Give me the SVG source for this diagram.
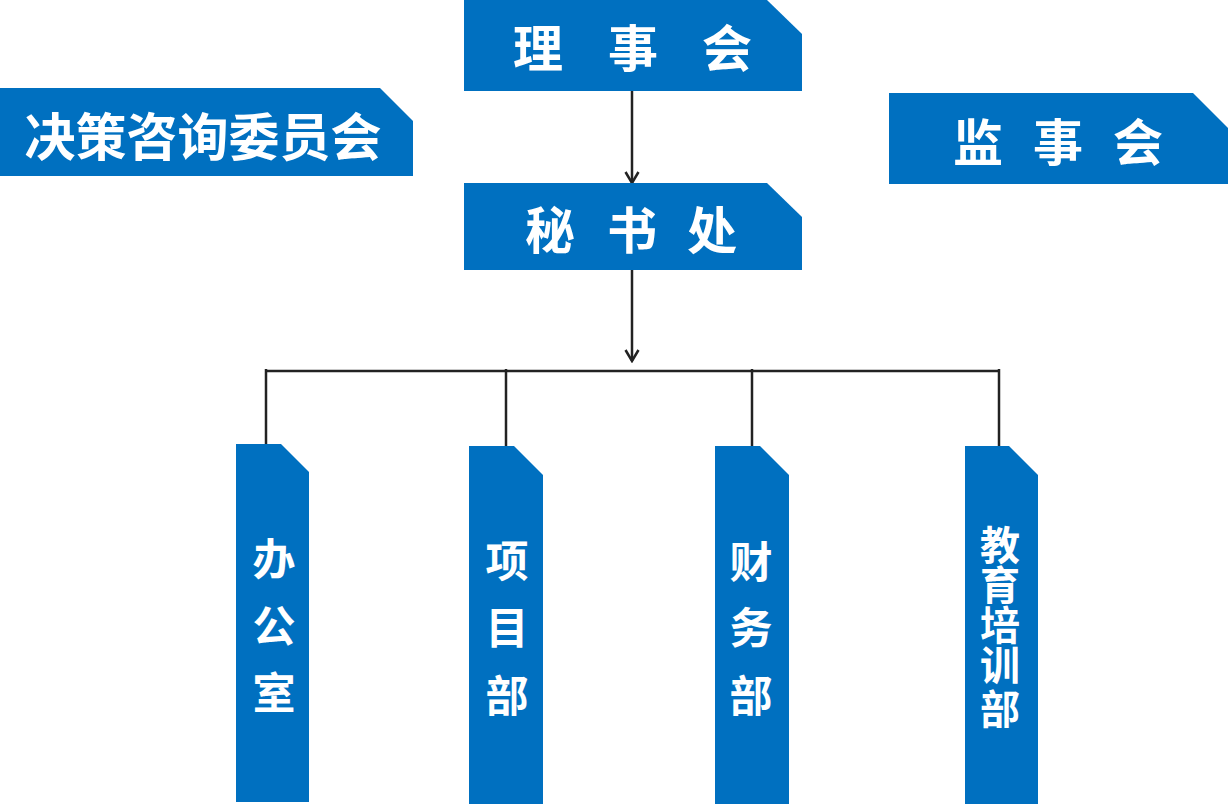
<svg xmlns="http://www.w3.org/2000/svg" width="1228" height="806" viewBox="0 0 1228 806">
<defs>
<style>
.box{fill:#0070C0;}
.t{fill:#fff;font-family:"Noto Sans CJK SC","Noto Sans",sans-serif;font-weight:700;text-anchor:middle;dominant-baseline:central;}
.h{font-size:50px;}
.v{font-size:43px;}
.v2{font-size:40px;}
.ln{stroke:#222;stroke-width:2.5;fill:none;}
</style>
<marker id="arr" markerWidth="16" markerHeight="16" refX="14" refY="8" orient="auto" markerUnits="userSpaceOnUse" viewBox="0 0 16 16">
<path d="M3 1.5 L14 8 L3 14.5" fill="none" stroke="#222" stroke-width="2.5"/>
</marker>
</defs>
<rect width="1228" height="806" fill="#fff"/>
<g id="connectors">
<line class="ln" x1="632" y1="91" x2="632" y2="183" marker-end="url(#arr)"/>
<line class="ln" x1="632" y1="270" x2="632" y2="361" marker-end="url(#arr)"/>
<line class="ln" x1="265" y1="371" x2="1000" y2="371"/>
<line class="ln" x1="266" y1="369" x2="266" y2="445"/>
<line class="ln" x1="506" y1="369" x2="506" y2="447"/>
<line class="ln" x1="752" y1="369" x2="752" y2="447"/>
<line class="ln" x1="999" y1="369" x2="999" y2="447"/>
</g>
<g id="lishihui">
<path class="box" d="M464 0 H767 L802 34 V91 H464 Z"/>
<text class="t h" x="538 633 727" y="45">理事会</text>
</g>
<g id="juece">
<path class="box" d="M0 88 H380 L413 121 V176 H0 Z"/>
<text class="t" style="font-size:51px" x="203" y="134">决策咨询委员会</text>
</g>
<g id="jianshihui">
<path class="box" d="M889 93 H1193 L1228 128 V184 H889 Z"/>
<text class="t h" x="978 1058 1138" y="139">监事会</text>
</g>
<g id="mishuchu">
<path class="box" d="M464 183 H767 L802 217 V270 H464 Z"/>
<text class="t h" x="550 632 712" y="227">秘书处</text>
</g>
<g id="bangongshi">
<path class="box" d="M236 444 H281 L309 472 V802 H236 Z"/>
<text class="t v" x="274 274 274" y="556 623 690">办公室</text>
</g>
<g id="xiangmubu">
<path class="box" d="M469 446 H514 L543 475 V804 H469 Z"/>
<text class="t v" x="507 507 507" y="558 625 693">项目部</text>
</g>
<g id="caiwubu">
<path class="box" d="M715 446 H760 L789 475 V804 H715 Z"/>
<text class="t v" x="751 751 751" y="559 625 693">财务部</text>
</g>
<g id="jiaoyupeixunbu">
<path class="box" d="M965 446 H1009 L1038 475 V804 H965 Z"/>
<text class="t v2" x="1000 1000 1000 1000 1000" y="543 583 623 663 707">教育培训部</text>
</g>
</svg>
